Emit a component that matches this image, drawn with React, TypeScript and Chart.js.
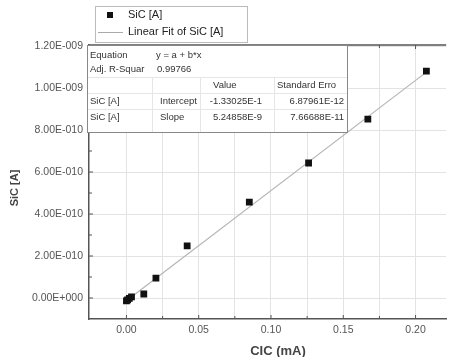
import React, { useEffect, useRef } from "react";
import { Chart, registerables } from "chart.js";

Chart.register(...registerables);

// ---- data ----
const cicX = [0, 0.0008, 0.002, 0.0035, 0.012, 0.0204, 0.042, 0.085, 0.126, 0.167, 0.2075];
const sicY = [-1.4e-11, -9e-12, -2e-12, 5e-12, 1.9e-11, 9.5e-11, 2.48e-10, 4.57e-10, 6.43e-10, 8.52e-10, 1.081e-9];
const fitX = [0, 0.2075];
const fitY = [-1.33e-11, 1.0758e-9];

const legendLabels = ["SiC [A]", "Linear Fit of SiC [A]"];
const xTitle = "CIC (mA)";
const yTitle = "SiC [A]";

const tableRow1 = ["Equation", "y = a + b*x"];
const tableRow2 = ["Adj. R-Squar", "0.99766"];
const tableHead = ["", "", "Value", "Standard Erro"];
const tableRow3 = ["SiC [A]", "Intercept", "-1.33025E-1", "6.87961E-12"];
const tableRow4 = ["SiC [A]", "Slope", "5.24858E-9", "7.66688E-11"];

const FONT = "'Liberation Sans', Arial, sans-serif";

function fmtE(v: number): string {
  if (Math.abs(v) < 1e-20) return "0.00E+000";
  const e = Math.floor(Math.log10(Math.abs(v)) + 1e-9);
  const m = v / Math.pow(10, e);
  const sign = e < 0 ? "-" : "+";
  return m.toFixed(2) + "E" + sign + String(Math.abs(e)).padStart(3, "0");
}

const isMult = (v: number, step: number) => Math.abs(v / step - Math.round(v / step)) < 1e-6;

const decorPlugin = {
  id: "decor",
  afterDraw(chart: any) {
    const ctx = chart.ctx as CanvasRenderingContext2D;
    const area = chart.chartArea;
    const xs = chart.scales.x;
    const ys = chart.scales.y;
    ctx.save();
    // top border
    ctx.strokeStyle = "#555";
    ctx.lineWidth = 1.5;
    ctx.beginPath();
    ctx.moveTo(area.left, area.top);
    ctx.lineTo(area.right, area.top);
    ctx.stroke();
    // inward ticks
    ctx.lineWidth = 1;
    ctx.strokeStyle = "#555";
    xs.ticks.forEach((t: any) => {
      if (!isMult(t.value, 0.025)) return;
      const px = xs.getPixelForValue(t.value);
      if (px <= area.left + 2 || px >= area.right) return;
      const len = isMult(t.value, 0.05) ? 4 : 3;
      ctx.beginPath();
      ctx.moveTo(px, area.bottom);
      ctx.lineTo(px, area.bottom - len);
      ctx.moveTo(px, area.top);
      ctx.lineTo(px, area.top + len);
      ctx.stroke();
    });
    ys.ticks.forEach((t: any) => {
      if (!isMult(t.value, 1e-10)) return;
      const py = ys.getPixelForValue(t.value);
      if (py >= area.bottom - 1 || py <= area.top + 1) return;
      const len = isMult(t.value, 2e-10) ? 4 : 3;
      ctx.beginPath();
      ctx.moveTo(area.left, py);
      ctx.lineTo(area.left + len, py);
      ctx.stroke();
    });

    // axis titles
    ctx.fillStyle = "#444";
    ctx.font = `bold 13px ${FONT}`;
    ctx.textAlign = "center";
    ctx.textBaseline = "middle";
    ctx.fillText(xTitle, 278, 351);
    ctx.save();
    ctx.translate(15, 188);
    ctx.rotate(-Math.PI / 2);
    ctx.font = `bold 11px ${FONT}`;
    ctx.fillText(yTitle, 0, 0);
    ctx.restore();

    // legend
    ctx.fillStyle = "#fff";
    ctx.fillRect(95, 6, 152, 36);
    ctx.strokeStyle = "#bbb";
    ctx.lineWidth = 1;
    ctx.strokeRect(95.5, 6.5, 152, 36);
    ctx.fillStyle = "#111";
    ctx.fillRect(107, 12, 6, 6);
    ctx.strokeStyle = "#aaa";
    ctx.beginPath();
    ctx.moveTo(98, 32.5);
    ctx.lineTo(123, 32.5);
    ctx.stroke();
    ctx.fillStyle = "#222";
    ctx.font = `11px ${FONT}`;
    ctx.textAlign = "left";
    ctx.fillText(legendLabels[0], 128, 15);
    ctx.fillText(legendLabels[1], 128, 32);

    // table
    const tL = 87, tT = 45, tR = 347, tB = 132;
    ctx.fillStyle = "#fff";
    ctx.fillRect(tL, tT, tR - tL, tB - tT);
    ctx.strokeStyle = "#e6e6e6";
    ctx.lineWidth = 1;
    ctx.beginPath();
    [77, 93, 109].forEach((y) => {
      ctx.moveTo(tL, y + 0.5);
      ctx.lineTo(tR, y + 0.5);
    });
    [152, 200, 274].forEach((x) => {
      ctx.moveTo(x + 0.5, 77);
      ctx.lineTo(x + 0.5, tB);
    });
    ctx.stroke();
    ctx.strokeStyle = "#888";
    ctx.strokeRect(tL + 0.5, tT + 0.5, tR - tL, tB - tT);

    ctx.fillStyle = "#333";
    ctx.font = `9.5px ${FONT}`;
    ctx.textBaseline = "middle";
    ctx.textAlign = "left";
    ctx.fillText(tableRow1[0], 90, 55);
    ctx.fillText(tableRow1[1], 156, 55);
    ctx.fillText(tableRow2[0], 90, 69);
    ctx.fillText(tableRow2[1], 157, 69);
    ctx.fillText(tableHead[2], 213, 85);
    ctx.fillText(tableHead[3], 277, 85);
    [[tableRow3, 101], [tableRow4, 117]].forEach(([row, y]: any) => {
      ctx.textAlign = "left";
      ctx.fillText(row[0], 90, y);
      ctx.fillText(row[1], 160, y);
      ctx.textAlign = "right";
      ctx.fillText(row[2], 262, y);
      ctx.fillText(row[3], 344, y);
    });
    ctx.restore();
  },
};

export default function App() {
  const ref = useRef<HTMLCanvasElement | null>(null);
  useEffect(() => {
    if (!ref.current) return;
    const chart = new Chart(ref.current, {
      type: "scatter",
      data: {
        datasets: [
          {
            label: legendLabels[1],
            type: "line",
            data: fitX.map((x, i) => ({ x, y: fitY[i] })),
            borderColor: "#b5b5b5",
            borderWidth: 1.2,
            pointRadius: 0,
            showLine: true,
            fill: false,
            order: 2,
          } as any,
          {
            label: legendLabels[0],
            data: cicX.map((x, i) => ({ x, y: sicY[i] })),
            pointStyle: "rect",
            pointRadius: 4.8,
            backgroundColor: "#111",
            borderColor: "#111",
            borderWidth: 0,
            order: 1,
          },
        ],
      },
      options: {
        animation: false,
        responsive: false,
        maintainAspectRatio: false,
        layout: { padding: { top: 45, right: 0, left: 0, bottom: 0 } },
        plugins: { legend: { display: false }, tooltip: { enabled: false } },
        scales: {
          x: {
            type: "linear",
            min: -0.0259,
            max: 0.2212,
            afterFit: (s: any) => {
              s.height = 38;
            },
            afterBuildTicks: (s: any) => {
              const out: any[] = [];
              for (let k = -1; k <= 8; k++) out.push({ value: k * 0.025 });
              s.ticks = out;
            },
            ticks: {
              autoSkip: false,
              maxRotation: 0,
              padding: 5,
              color: "#555",
              font: { family: FONT, size: 10.5 },
              callback: (v: any) => {
                const n = Number(v);
                if (n < -1e-9) return "";
                return isMult(n, 0.05) ? n.toFixed(2) : "";
              },
            },
            grid: {
              drawTicks: false,
              color: (c: any) => {
                const v = c.tick ? c.tick.value : NaN;
                if (v < -1e-9) return "rgba(0,0,0,0)";
                return "#e3e3e3";
              },
              lineWidth: 1,
            },
            border: { display: true, color: "#555", width: 1.5 },
          },
          y: {
            type: "linear",
            min: -1e-10,
            max: 1.205e-9,
            afterFit: (s: any) => {
              s.width = 89;
            },
            afterBuildTicks: (s: any) => {
              const out: any[] = [];
              for (let k = -1; k <= 12; k++) out.push({ value: k * 1e-10 });
              s.ticks = out;
            },
            ticks: {
              autoSkip: false,
              padding: 6,
              color: "#555",
              font: { family: FONT, size: 10.5 },
              callback: (v: any) => {
                const n = Number(v);
                if (n < -1e-20) return "";
                return isMult(n, 2e-10) ? fmtE(n) : "";
              },
            },
            grid: {
              drawTicks: false,
              color: (c: any) => {
                const v = c.tick ? c.tick.value : NaN;
                if (v < -1e-20) return "rgba(0,0,0,0)";
                return isMult(v, 2e-10) ? "#e3e3e3" : "rgba(0,0,0,0)";
              },
            },
            border: { display: true, color: "#555", width: 1.5 },
          },
        },
      },
      plugins: [decorPlugin],
    });
    return () => chart.destroy();
  }, []);
  return (
    <div style={{ position: "fixed", left: 0, top: 0, width: 451, height: 357, background: "#fff" }}>
      <canvas ref={ref} width={451} height={357} style={{ display: "block", width: 451, height: 357 }} />
    </div>
  );
}
